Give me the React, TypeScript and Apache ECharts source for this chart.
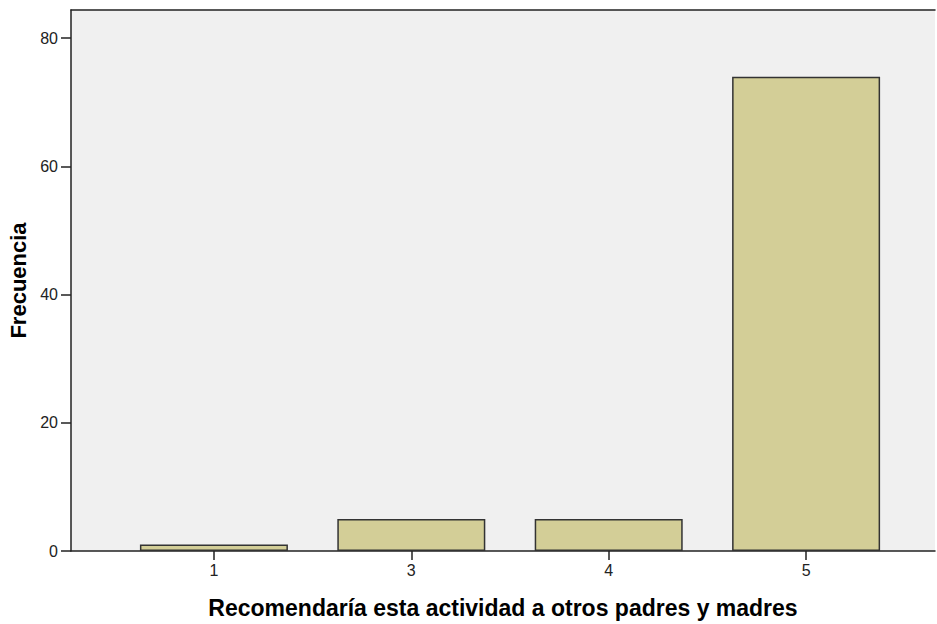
import React, { useEffect, useRef } from "react";
import * as echarts from "echarts";

const categories = ["1", "3", "4", "5"];
const frequencies = [1, 5, 5, 74];
const yTicks = [0, 20, 40, 60, 80];
const xTitle = "Recomendaría esta actividad a otros padres y madres";
const yTitle = "Frecuencia";

export default function App() {
  const ref = useRef<HTMLDivElement>(null);
  useEffect(() => {
    if (!ref.current) return;
    const chart = echarts.init(ref.current, null, { renderer: "svg" });
    const font = "'Liberation Sans', Arial, sans-serif";
    const idx = categories.map((_, i) => i);
    chart.setOption({
      animation: false,
      grid: {
        left: 71,
        right: 2,
        top: 10,
        bottom: 73,
        show: true,
        backgroundColor: "#F0F0F0",
        borderWidth: 0,
        outerBoundsMode: "none",
        containLabel: false,
      },
      xAxis: [
        {
          type: "value",
          min: -0.724,
          max: 3.653,
          position: "bottom",
          name: xTitle,
          nameLocation: "middle",
          nameGap: 45,
          nameTextStyle: { fontFamily: font, fontSize: 23, fontWeight: "bold", color: "#000" },
          axisLine: { show: true, onZero: false, lineStyle: { color: "#222", width: 1.5 } },
          axisTick: { show: true, length: 9, customValues: idx, lineStyle: { color: "#222", width: 1.5 } },
          axisLabel: {
            customValues: idx,
            margin: 11,
            fontFamily: font,
            fontSize: 16,
            color: "#222",
            formatter: (v: number) => categories[Math.round(v)] ?? "",
          },
          splitLine: { show: false },
        },
        {
          type: "value",
          min: -0.724,
          max: 3.653,
          position: "top",
          axisLine: { show: true, onZero: false, lineStyle: { color: "#222", width: 1.5 } },
          axisTick: { show: false },
          axisLabel: { show: false },
          splitLine: { show: false },
        },
      ],
      yAxis: {
        type: "value",
        min: 0,
        max: 84.4,
        name: yTitle,
        nameLocation: "middle",
        nameGap: 39,
        nameRotate: 90,
        nameTextStyle: { fontFamily: font, fontSize: 22, fontWeight: "bold", color: "#000" },
        axisLine: { show: true, onZero: false, lineStyle: { color: "#222", width: 1.5 } },
        axisTick: { show: true, length: 10, customValues: yTicks, lineStyle: { color: "#222", width: 1.5 } },
        axisLabel: {
          customValues: yTicks,
          margin: 13,
          fontFamily: font,
          fontSize: 16,
          color: "#222",
        },
        splitLine: { show: false },
      },
      series: [
        {
          type: "bar",
          xAxisIndex: 0,
          barWidth: 148,
          data: frequencies.map((v, i) => [i, v]),
          itemStyle: { color: "#D3CE97", borderColor: "#333", borderWidth: 1.5 },
        },
      ],
    });
    return () => chart.dispose();
  }, []);
  return <div ref={ref} style={{ width: 937, height: 624, position: "absolute", left: 0, top: 0 }} />;
}
